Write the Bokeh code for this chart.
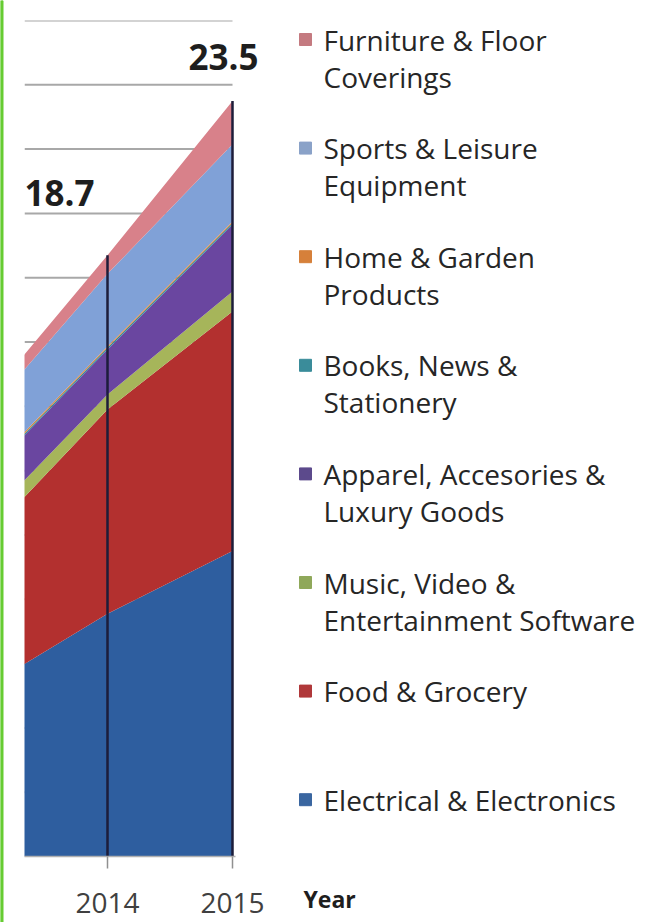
from bokeh.plotting import figure
from bokeh.models import Range1d, FixedTicker, Label, ColumnDataSource
from bokeh.layouts import row
from bokeh.core.properties import value
from bokeh.embed import file_html
from bokeh.resources import INLINE

# ---------------- data ----------------
years = [2013, 2014, 2015]
electrical = [5.2, 7.55, 9.5]
food = [4.6, 6.35, 7.45]
music = [0.55, 0.47, 0.62]
apparel = [1.4, 1.4, 2.08]
books = [0.05, 0.05, 0.05]
home = [0.05, 0.05, 0.05]
sports = [1.8, 2.25, 2.4]
furniture = [0.4, 0.58, 1.35]

keys = ["electrical", "food", "music", "apparel", "books", "home", "sports", "furniture"]
legend_labels = [
    "Electrical & Electronics",
    "Food & Grocery",
    "Music, Video &\nEntertainment Software",
    "Apparel, Accesories &\nLuxury Goods",
    "Books, News &\nStationery",
    "Home & Garden\nProducts",
    "Sports & Leisure\nEquipment",
    "Furniture & Floor\nCoverings",
]
colors = ["#2e5e9f", "#b3302f", "#a6b55a", "#6a46a0", "#2f8a9c", "#de843c", "#80a1d7", "#d8818a"]
legend_colors = ["#3a66a0", "#b0383a", "#8fa85a", "#5c4a8c", "#3a8c9a", "#d6803a", "#8aa2c8", "#c47a80"]
tick_years = [2014, 2015]
tick_labels = ["2014", "2015"]
label_years = [2014, 2015]
grid_values = list(range(2, 27, 2))

series = [electrical, food, music, apparel, books, home, sports, furniture]
totals = [sum(s[i] for s in series) for i in range(len(years))]

# ---------------- decoration strip ----------------
deco = figure(width=24, height=922, x_range=Range1d(0, 24), y_range=Range1d(0, 1),
              toolbar_location=None, output_backend="svg", min_border=0, frame_align=False)
deco.quad(left=[0], right=[2.5], bottom=[0], top=[1], color="#66cc33")
deco.axis.visible = False
deco.grid.visible = False
deco.outline_line_color = None

# ---------------- chart ----------------
Y_MAX = 26
TOP, BOTTOM = 20, 66
x0 = 2013.336
x_end = 2015.0
x1 = x0 + 266 / 125.0
p = figure(width=270, height=922, x_range=Range1d(x0, x1), y_range=Range1d(0, Y_MAX),
           toolbar_location=None, output_backend="svg", frame_align=False,
           min_border_left=0, min_border_right=4, min_border_top=TOP, min_border_bottom=BOTTOM)
p.outline_line_color = None
p.background_fill_color = "white"

# horizontal gridlines, limited to the plotted years
p.segment(x0=[x0] * len(grid_values), y0=grid_values, x1=[x_end] * len(grid_values), y1=grid_values,
          line_color="#a8a8a8", line_width=2)

src = ColumnDataSource(dict(year=years, electrical=electrical, food=food, music=music,
                            apparel=apparel, books=books, home=home, sports=sports,
                            furniture=furniture))
p.varea_stack(stackers=keys, x="year", color=colors, source=src)

# drop lines
p.segment(x0=years, y0=[0] * len(years), x1=years, y1=totals, line_color="#1d1d3a", line_width=2.5)

p.yaxis.visible = False
p.grid.visible = False

p.xaxis.ticker = FixedTicker(ticks=tick_years)
p.xaxis.bounds = (x0, x_end + 0.02)
p.xaxis.major_label_overrides = {y: t for y, t in zip(tick_years, tick_labels)}
p.xaxis.major_label_text_font = "Open Sans"
p.xaxis.major_label_text_font_size = "28px"
p.xaxis.major_label_text_color = "#404040"
p.xaxis.major_label_standoff = 24
p.xaxis.axis_line_color = "#b0b0b0"
p.xaxis.axis_line_width = 1.5
p.xaxis.major_tick_line_color = "#909090"
p.xaxis.major_tick_line_width = 1.5
p.xaxis.major_tick_out = 12
p.xaxis.major_tick_in = 0
p.xaxis.minor_tick_line_color = None

ppu = (922 - TOP - BOTTOM) / Y_MAX
label_dx = {2014: -13, 2015: 26}
label_dy = {2014: 62, 2015: 44}
for yr in label_years:
    i = years.index(yr)
    p.add_layout(Label(x=yr, y=totals[i] + label_dy[yr] / ppu, x_offset=label_dx[yr],
                       text=f"{totals[i]:.1f}", text_align="right", text_baseline="middle",
                       text_font="Open Sans", text_font_size="35px", text_font_style="bold",
                       text_color="#1e1e1e"))

# ---------------- legend panel ----------------
lg = figure(width=360, height=922, x_range=Range1d(294, 654), y_range=Range1d(922, 0),
            toolbar_location=None, output_backend="svg", min_border=0, frame_align=False)
lg.axis.visible = False
lg.grid.visible = False
lg.outline_line_color = None

order = list(range(len(keys)))[::-1]
sq_x, sq_y, sq_c = [], [], []
tx, ty, tt = [], [], []
for k, idx in enumerate(order):
    y_first = 39 + k * 108.6
    sq_x.append(305)
    sq_y.append(y_first)
    sq_c.append(legend_colors[idx])
    for j, line in enumerate(legend_labels[idx].split("\n")):
        tx.append(323)
        ty.append(y_first + j * 37)
        tt.append(line)
lg.rect(x=sq_x, y=sq_y, width=12, height=12, color=sq_c)
lg.text(x=tx, y=ty, text=tt, text_font=value("Open Sans"), text_font_size=value("28px"),
        text_baseline="middle", text_color="#262626")
lg.text(x=[303], y=[898], text=["Year"], text_font=value("Open Sans"), text_font_size=value("23px"),
        text_font_style="bold", text_baseline="middle", text_color="#1e1e1e")

layout = row(deco, p, lg)
open("out.html", "w").write(file_html(layout, INLINE))
